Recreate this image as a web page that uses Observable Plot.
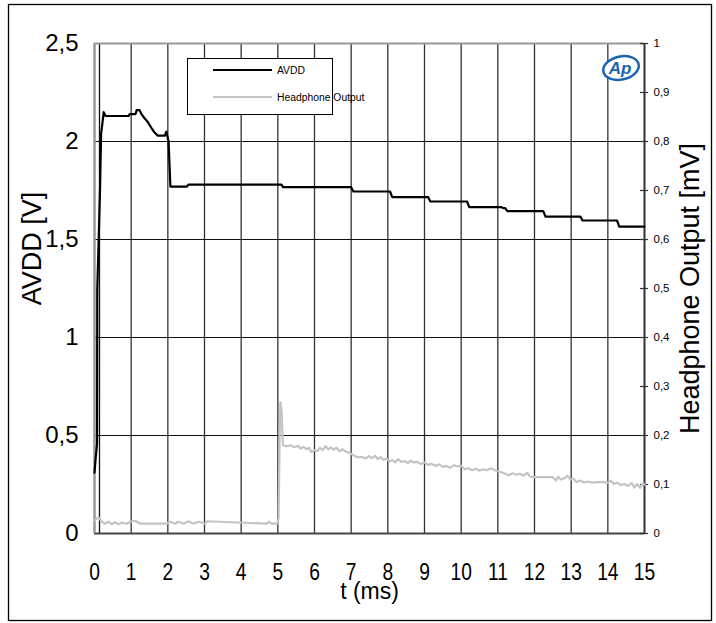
<!DOCTYPE html>
<html>
<head>
<meta charset="utf-8">
<script src="https://cdn.jsdelivr.net/npm/d3@7"></script>
<script src="https://cdn.jsdelivr.net/npm/@observablehq/plot@0.6"></script>
<style>
  html, body { margin: 0; padding: 0; background: #fff; }
  #chart { position: relative; width: 716px; height: 623px; }
  svg { font-family: "Liberation Sans", Arial, sans-serif; }
</style>
</head>
<body>
<div id="chart"></div>
<script>
// AVDD (V) vs t (ms)
const avddT = [0, 0.03, 0.07, 0.075, 0.15, 0.18, 0.22, 0.25, 0.30, 0.93, 0.96, 1.12, 1.15, 1.23, 1.28, 1.36, 1.45, 1.55, 1.62, 1.72, 1.92, 1.96, 2.02, 2.07, 2.52, 2.56, 5.10, 5.14, 7.00, 7.06, 8.06, 8.12, 9.10, 9.16, 10.16, 10.22, 11.10, 11.15, 11.20, 11.26, 12.24, 12.30, 13.25, 13.31, 14.25, 14.31, 15];
const avddV = [0.31, 0.38, 0.46, 1.24, 1.75, 2.04, 2.10, 2.15, 2.13, 2.13, 2.14, 2.14, 2.16, 2.16, 2.14, 2.12, 2.10, 2.07, 2.05, 2.03, 2.03, 2.05, 2.00, 1.77, 1.77, 1.78, 1.78, 1.767, 1.767, 1.745, 1.745, 1.716, 1.716, 1.694, 1.694, 1.665, 1.665, 1.66, 1.66, 1.645, 1.645, 1.617, 1.617, 1.597, 1.597, 1.566, 1.566];

// Headphone output (mV) vs t (ms)
const hpT = [0, 0.11, 0.20, 0.29, 0.38, 0.47, 0.56, 0.65, 0.75, 0.88, 0.97, 1.11, 1.25, 1.97, 2.06, 2.20, 2.29, 2.43, 2.56, 2.70, 2.84, 3.02, 3.07, 4.70, 4.75, 4.84, 4.98, 5.02, 5.05, 5.07, 5.10, 5.14,
  5.25, 5.35, 5.45, 5.55, 5.62, 5.70, 5.78, 5.85, 5.92, 6.00, 6.08, 6.15, 6.22, 6.30, 6.38, 6.45, 6.52, 6.60, 6.68, 6.76, 6.85, 6.95, 7.05, 7.15, 7.30, 7.40, 7.48, 7.56, 7.65, 7.72, 7.80, 7.88, 7.96,
  8.05, 8.12, 8.20, 8.28, 8.36, 8.45, 8.55, 8.62, 8.70, 8.80, 8.90, 9.00, 9.10, 9.20, 9.30, 9.40, 9.50, 9.60, 9.70, 9.80, 9.90, 10.00, 10.10, 10.20, 10.30, 10.40, 10.50, 10.60, 10.70, 10.82, 10.92,
  11.00, 11.10, 11.20, 11.30, 11.40, 11.50, 11.60, 11.70, 11.80, 11.88, 12.00, 12.30, 12.50, 12.58, 12.65, 12.72, 12.82, 12.90, 12.98, 13.06, 13.14, 13.25, 13.35, 13.45, 13.55, 13.70, 13.85, 14.00,
  14.08, 14.16, 14.25, 14.35, 14.45, 14.55, 14.65, 14.72, 14.80, 14.88, 14.95, 15.00];
const hpMV = [0.027, 0.033, 0.024, 0.020, 0.024, 0.019, 0.023, 0.019, 0.022, 0.020, 0.024, 0.026, 0.020, 0.020, 0.024, 0.020, 0.024, 0.020, 0.025, 0.020, 0.024, 0.020, 0.025, 0.020, 0.024, 0.020, 0.020, 0.031, 0.200, 0.268, 0.250, 0.180,
  0.178, 0.180, 0.176, 0.179, 0.173, 0.177, 0.172, 0.175, 0.166, 0.170, 0.168, 0.175, 0.170, 0.178, 0.172, 0.176, 0.171, 0.175, 0.168, 0.172, 0.167, 0.165, 0.160, 0.156, 0.156, 0.153, 0.158, 0.154, 0.159, 0.152, 0.156, 0.150, 0.153,
  0.147, 0.150, 0.145, 0.152, 0.146, 0.148, 0.144, 0.149, 0.145, 0.146, 0.142, 0.145, 0.140, 0.142, 0.138, 0.141, 0.136, 0.138, 0.134, 0.139, 0.137, 0.138, 0.131, 0.133, 0.129, 0.132, 0.128, 0.131, 0.129, 0.133, 0.129,
  0.127, 0.125, 0.122, 0.119, 0.123, 0.120, 0.122, 0.118, 0.124, 0.116, 0.115, 0.115, 0.115, 0.108, 0.116, 0.110, 0.113, 0.118, 0.110, 0.112, 0.105, 0.108, 0.104, 0.106, 0.104, 0.105, 0.105, 0.104,
  0.108, 0.101, 0.104, 0.099, 0.101, 0.097, 0.103, 0.094, 0.101, 0.093, 0.102, 0.100];

// Axis ticks
const xTicks = [0, 1, 2, 3, 4, 5, 6, 7, 8, 9, 10, 11, 12, 13, 14, 15];
const leftTicks = [0, 0.5, 1, 1.5, 2, 2.5];
const rightTicks = [0, 0.1, 0.2, 0.3, 0.4, 0.5, 0.6, 0.7, 0.8, 0.9, 1];
const vGrid = [1, 2, 3, 4, 5, 6, 7, 8, 9, 10, 11, 12, 13, 14];
const hGrid = [0.5, 1, 1.5, 2];
const mvToV = 2.5; // right axis 0..1 mV spans left axis 0..2.5 V

const avdd = avddT.map((t, i) => ({t, v: avddV[i]}));
const hp = hpT.map((t, i) => ({t, v: hpMV[i] * mvToV}));
const comma = d => String(d).replace(".", ",");

const plot = Plot.plot({
  width: 716,
  height: 623,
  marginLeft: 94,
  marginRight: 72,
  marginTop: 43,
  marginBottom: 90,
  x: {domain: [0, 15]},
  y: {domain: [0, 2.5]},
  style: {fontFamily: "Liberation Sans, Arial, sans-serif", background: "#fff"},
  marks: [
    Plot.ruleX(vGrid, {stroke: "#333", strokeWidth: 1.3}),
    Plot.ruleX([0], {stroke: "#111", strokeWidth: 1.3, dx: 5}),
    Plot.ruleY(hGrid, {stroke: "#111", strokeWidth: 1.1}),
    Plot.ruleY([2.5], {stroke: "#999", strokeWidth: 2}),
    Plot.ruleY([0], {stroke: "#444", strokeWidth: 2}),
    Plot.ruleX([0], {stroke: "#999", strokeWidth: 2.5}),
    Plot.ruleX([15], {stroke: "#333", strokeWidth: 2}),
    Plot.ruleY(rightTicks, {y: d => d * mvToV, x1: 15 - 0.11, x2: 15 + 0.11, stroke: "#333", strokeWidth: 1.2}),
    Plot.axisY(leftTicks, {anchor: "left", tickSize: 0, tickPadding: 16, fontSize: 24, tickFormat: comma, label: null}),
    Plot.axisY(rightTicks.map(d => d * mvToV), {anchor: "right", tickSize: 0, tickPadding: 9, fontSize: 11.5, tickFormat: d => comma(+(d / mvToV).toFixed(1)), label: null}),
    Plot.axisX(xTicks, {anchor: "bottom", tickSize: 0, tickPadding: 29, fontSize: 24, label: null}),
    Plot.text(["t (ms)"], {frameAnchor: "bottom", dy: 65, fontSize: 23}),
    Plot.text(["AVDD [V]"], {frameAnchor: "left", rotate: -90, textAnchor: "middle", dx: -62, dy: -40, fontSize: 27, ariaLabel: "ytitle"}),
    Plot.text(["Headphone Output [mV]"], {frameAnchor: "right", rotate: -90, textAnchor: "middle", dx: 46, dy: 0, fontSize: 27, ariaLabel: "ytitle"}),
    Plot.line(hp, {x: "t", y: "v", stroke: "#c4c4c4", strokeWidth: 2.2}),
    Plot.line(avdd, {x: "t", y: "v", stroke: "#000", strokeWidth: 2.2})
  ]
});

document.getElementById("chart").appendChild(plot);

const svg = d3.select(plot);
// Stretch text as in the (non-uniformly scaled) reference
svg.selectAll('[aria-label="x-axis tick label"] text').each(function () {
  const t = this.getAttribute("transform") || "";
  this.setAttribute("transform", t + " scale(0.8,1)");
});
svg.selectAll('[aria-label="ytitle"] text').each(function () {
  const t = this.getAttribute("transform") || "";
  this.setAttribute("transform", t + " scale(1.1,1)");
});

// Decorations: outer border, legend, logo
svg.append("rect").attr("x", 8.5).attr("y", 4.5).attr("width", 703).attr("height", 616)
  .attr("fill", "none").attr("stroke", "#000").attr("stroke-width", 1.3);

const lg = svg.append("g").attr("text-anchor", "start");
lg.append("rect").attr("x", 187.5).attr("y", 58.5).attr("width", 145).attr("height", 56)
  .attr("fill", "#fff").attr("stroke", "#000").attr("stroke-width", 1);
const legendItems = [{name: "AVDD", color: "#000"}, {name: "Headphone Output", color: "#c4c4c4"}];
legendItems.forEach((it, i) => {
  const y = 70 + i * 27;
  lg.append("line").attr("x1", 213).attr("x2", 272).attr("y1", y).attr("y2", y)
    .attr("stroke", it.color).attr("stroke-width", 2.2);
  lg.append("text").attr("x", 277).attr("y", y).attr("dy", "0.35em").attr("text-anchor", "start")
    .attr("font-size", 11.5).attr("fill", "#000")
    .attr("transform", `translate(277,0) scale(0.9,1) translate(-277,0)`).text(it.name);
});

const logo = svg.append("g").attr("transform", "translate(621,68) rotate(-12)");
logo.append("ellipse").attr("rx", 18).attr("ry", 11.5).attr("fill", "#fff")
  .attr("stroke", "#1b64b0").attr("stroke-width", 2.5);
svg.append("text").attr("x", 620).attr("y", 74).attr("text-anchor", "middle")
  .attr("font-size", 17).attr("font-style", "italic").attr("font-weight", "bold")
  .attr("fill", "#1b64b0").text("Ap");
</script>
</body>
</html>
